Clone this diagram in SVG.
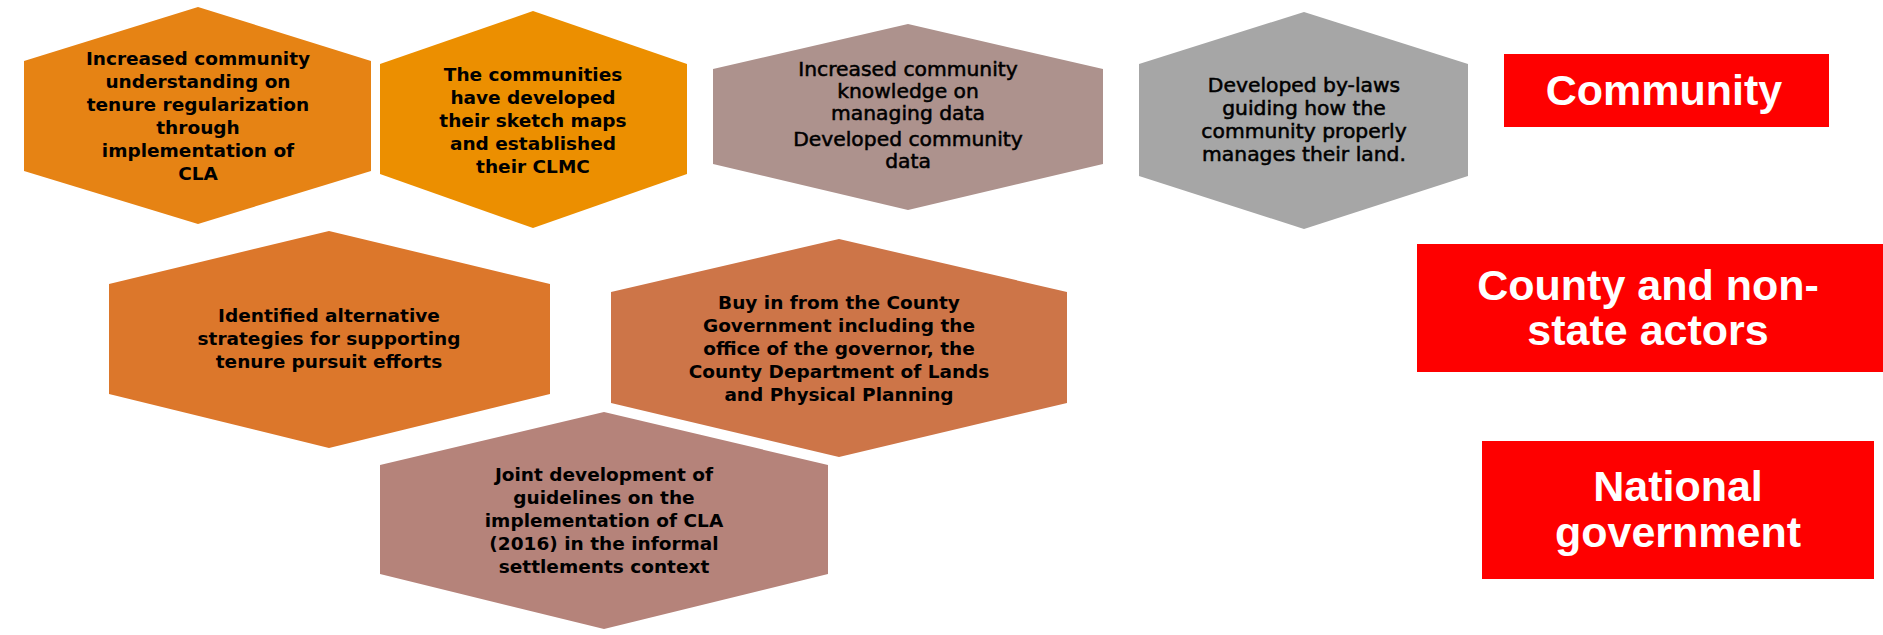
<svg xmlns="http://www.w3.org/2000/svg" width="1883" height="635" viewBox="0 0 1883 635">
<style>
.ht{font-family:"DejaVu Sans","Liberation Sans",sans-serif;font-weight:bold;font-size:18.5px;fill:#000;text-anchor:middle}
.hr{font-weight:normal;font-size:20.3px;stroke:#000;stroke-width:0.55px}
.bt{font-family:"Liberation Sans",Arial,sans-serif;font-weight:bold;font-size:43px;fill:#fff;text-anchor:middle}
.box{fill:#FE0000}
</style>
<rect width="1883" height="635" fill="#fff"/>
<g id="connectors"/>
<g id="hex-understanding">
<polygon points="24,61 198,7 371,61 371,171 198,224 24,171" fill="#E68314"/>
<text class="ht"><tspan x="198" y="65">Increased community</tspan><tspan x="198" y="88">understanding on</tspan><tspan x="198" y="111">tenure regularization</tspan><tspan x="198" y="134">through</tspan><tspan x="198" y="157">implementation of</tspan><tspan x="198" y="180">CLA</tspan></text>
</g>
<g id="hex-sketch-maps">
<polygon points="380,64 533,11 687,64 687,174 533,228 380,174" fill="#EC8F00"/>
<text class="ht"><tspan x="533" y="81">The communities</tspan><tspan x="533" y="104">have developed</tspan><tspan x="533" y="127">their sketch maps</tspan><tspan x="533" y="150">and established</tspan><tspan x="533" y="173">their CLMC</tspan></text>
</g>
<g id="hex-data">
<polygon points="713,69 908,24 1103,69 1103,164 908,210 713,164" fill="#AD928D"/>
<text class="ht hr"><tspan x="908" y="76">Increased community</tspan><tspan x="908" y="98">knowledge on</tspan><tspan x="908" y="120">managing data</tspan><tspan x="908" y="146">Developed community</tspan><tspan x="908" y="168">data</tspan></text>
</g>
<g id="hex-bylaws">
<polygon points="1139,64 1304,12 1468,64 1468,176 1304,229 1139,176" fill="#A6A6A6"/>
<text class="ht hr"><tspan x="1304" y="92">Developed by-laws</tspan><tspan x="1304" y="115">guiding how the</tspan><tspan x="1304" y="138">community properly</tspan><tspan x="1304" y="161">manages their land.</tspan></text>
</g>
<g id="hex-strategies">
<polygon points="109,284 329,231 550,284 550,394 329,448 109,394" fill="#DC772B"/>
<text class="ht"><tspan x="329" y="322">Identified alternative</tspan><tspan x="329" y="345">strategies for supporting</tspan><tspan x="329" y="368">tenure pursuit efforts</tspan></text>
</g>
<g id="hex-county-buyin">
<polygon points="611,292 839,239 1067,292 1067,403 839,457 611,403" fill="#CD7548"/>
<text class="ht"><tspan x="839" y="309">Buy in from the County</tspan><tspan x="839" y="332">Government including the</tspan><tspan x="839" y="355">office of the governor, the</tspan><tspan x="839" y="378">County Department of Lands</tspan><tspan x="839" y="401">and Physical Planning</tspan></text>
</g>
<g id="hex-guidelines">
<polygon points="380,465 604,412 828,465 828,574 604,629 380,574" fill="#B5837A"/>
<text class="ht"><tspan x="604" y="481">Joint development of</tspan><tspan x="604" y="504">guidelines on the</tspan><tspan x="604" y="527">implementation of CLA</tspan><tspan x="604" y="550">(2016) in the informal</tspan><tspan x="604" y="573">settlements context</tspan></text>
</g>
<g id="label-community">
<rect class="box" x="1504" y="54" width="325" height="73"/>
<text class="bt" x="1664" y="105">Community</text>
</g>
<g id="label-county">
<rect class="box" x="1417" y="244" width="466" height="128"/>
<text class="bt"><tspan x="1648" y="300">County and non-</tspan><tspan x="1648" y="345">state actors</tspan></text>
</g>
<g id="label-national">
<rect class="box" x="1482" y="441" width="392" height="138"/>
<text class="bt"><tspan x="1678" y="501">National</tspan><tspan x="1678" y="547">government</tspan></text>
</g>
</svg>
